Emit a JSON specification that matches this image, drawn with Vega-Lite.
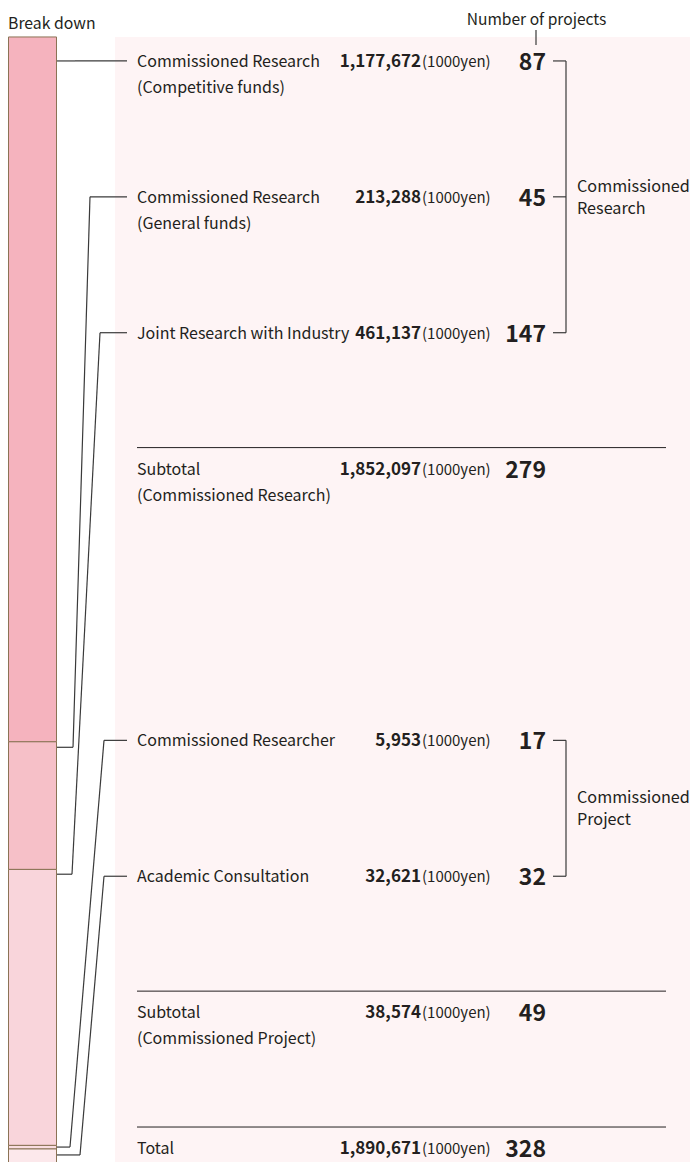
{
  "$schema": "https://vega.github.io/schema/vega-lite/v6.json",
  "width": 690,
  "height": 1163,
  "padding": 0,
  "autosize": {"type": "fit", "contains": "padding"},
  "background": "#ffffff",
  "config": {"view": {"stroke": null}, "text": {"font": "Noto Sans CJK JP", "color": "#231f20"}},
  "datasets": {
    "rows": [
      {"item": "Commissioned Research\n(Competitive funds)", "amount": 1177672, "projects": 87, "group": "Commissioned Research", "kind": "item", "row": 0},
      {"item": "Commissioned Research\n(General funds)", "amount": 213288, "projects": 45, "group": "Commissioned Research", "kind": "item", "row": 1},
      {"item": "Joint Research with Industry", "amount": 461137, "projects": 147, "group": "Commissioned Research", "kind": "item", "row": 2},
      {"item": "Subtotal\n(Commissioned Research)", "amount": 1852097, "projects": 279, "group": "Commissioned Research", "kind": "subtotal", "row": 3},
      {"item": "Commissioned Researcher", "amount": 5953, "projects": 17, "group": "Commissioned Project", "kind": "item", "row": 5},
      {"item": "Academic Consultation", "amount": 32621, "projects": 32, "group": "Commissioned Project", "kind": "item", "row": 6},
      {"item": "Subtotal\n(Commissioned Project)", "amount": 38574, "projects": 49, "group": "Commissioned Project", "kind": "subtotal", "row": 7},
      {"item": "Total", "amount": 1890671, "projects": 328, "group": "All", "kind": "total", "row": 8}
    ],
    "leaders": [
      {"item": "Commissioned Research\n(Competitive funds)", "fromRow": 0, "toRow": 0, "bendX1": 75, "bendX2": 75},
      {"item": "Commissioned Research\n(General funds)", "fromRow": 5.051, "toRow": 1, "bendX1": 73, "bendX2": 90},
      {"item": "Joint Research with Industry", "fromRow": 5.985, "toRow": 2, "bendX1": 72, "bendX2": 100},
      {"item": "Commissioned Researcher", "fromRow": 7.993, "toRow": 5, "bendX1": 70, "bendX2": 104},
      {"item": "Academic Consultation", "fromRow": 8.051, "toRow": 6, "bendX1": 80, "bendX2": 104}
    ],
    "headers": [
      {"title": "Break down", "col": "left"},
      {"title": "Number of projects", "col": "right"}
    ]
  },
  "layer": [
    {
      "data": {"name": "headers"},
      "transform": [{"filter": "datum.col === 'right'"}],
      "mark": {"type": "rect", "color": "#fef4f5", "clip": true},
      "encoding": {
        "x": {"datum": 115, "type": "quantitative", "scale": {"domain": [0, 690], "nice": false, "zero": false}, "axis": null},
        "x2": {"datum": 690},
        "y": {"datum": -0.1765, "type": "quantitative", "scale": {"domain": [-0.4485, 8.1029], "reverse": true, "nice": false, "zero": false}, "axis": null},
        "y2": {"datum": 8.3}
      }
    },
    {
      "data": {"name": "rows"},
      "transform": [
        {"filter": "datum.kind === 'item'"},
        {"stack": "amount", "groupby": [], "sort": [{"field": "row", "order": "ascending"}], "as": ["a0", "a1"]}
      ],
      "mark": {"type": "rect", "stroke": "#8b7355", "strokeWidth": 1, "clip": true},
      "encoding": {
        "x": {"datum": 8.5, "type": "quantitative", "scale": {"domain": [0, 690], "nice": false, "zero": false}, "axis": null},
        "x2": {"datum": 56.5},
        "y": {"field": "a0", "type": "quantitative", "scale": {"domain": [-61770, 1879800], "reverse": true, "nice": false, "zero": false}, "axis": null},
        "y2": {"field": "a1"},
        "color": {
          "field": "item", "type": "nominal", "legend": null,
          "scale": {
            "domain": ["Commissioned Research\n(Competitive funds)", "Commissioned Research\n(General funds)", "Joint Research with Industry", "Commissioned Researcher", "Academic Consultation"],
            "range": ["#f5b3be", "#f6c0c8", "#f9d5db", "#fadde1", "#fce8eb"]
          }
        }
      }
    },
    {
      "data": {"name": "leaders"},
      "mark": {"type": "rule", "color": "#3a3a3a", "strokeWidth": 1.2},
      "encoding": {
        "x": {"field": "bendX1", "type": "quantitative", "scale": {"domain": [0, 690], "nice": false, "zero": false}, "axis": null},
        "x2": {"datum": 57},
        "y": {"field": "fromRow", "type": "quantitative", "scale": {"domain": [-0.4485, 8.1029], "reverse": true, "nice": false, "zero": false}, "axis": null}
      }
    },
    {
      "data": {"name": "leaders"},
      "mark": {"type": "rule", "color": "#3a3a3a", "strokeWidth": 1.2},
      "encoding": {
        "x": {"field": "bendX1", "type": "quantitative", "scale": {"domain": [0, 690], "nice": false, "zero": false}, "axis": null},
        "x2": {"field": "bendX2"},
        "y": {"field": "fromRow", "type": "quantitative", "scale": {"domain": [-0.4485, 8.1029], "reverse": true, "nice": false, "zero": false}, "axis": null},
        "y2": {"field": "toRow"}
      }
    },
    {
      "data": {"name": "leaders"},
      "mark": {"type": "rule", "color": "#3a3a3a", "strokeWidth": 1.2},
      "encoding": {
        "x": {"field": "bendX2", "type": "quantitative", "scale": {"domain": [0, 690], "nice": false, "zero": false}, "axis": null},
        "x2": {"datum": 127},
        "y": {"field": "toRow", "type": "quantitative", "scale": {"domain": [-0.4485, 8.1029], "reverse": true, "nice": false, "zero": false}, "axis": null}
      }
    },
    {
      "data": {"name": "rows"},
      "transform": [{"filter": "datum.kind === 'item'"}],
      "mark": {"type": "rule", "color": "#3a3a3a", "strokeWidth": 1.2},
      "encoding": {
        "x": {"datum": 553, "type": "quantitative", "scale": {"domain": [0, 690], "nice": false, "zero": false}, "axis": null},
        "x2": {"datum": 566},
        "y": {"field": "row", "type": "quantitative", "scale": {"domain": [-0.4485, 8.1029], "reverse": true, "nice": false, "zero": false}, "axis": null}
      }
    },
    {
      "data": {"name": "rows"},
      "transform": [
        {"filter": "datum.kind === 'item'"},
        {"aggregate": [{"op": "min", "field": "row", "as": "r0"}, {"op": "max", "field": "row", "as": "r1"}], "groupby": ["group"]}
      ],
      "mark": {"type": "rule", "color": "#3a3a3a", "strokeWidth": 1.2},
      "encoding": {
        "x": {"datum": 566, "type": "quantitative", "scale": {"domain": [0, 690], "nice": false, "zero": false}, "axis": null},
        "y": {"field": "r0", "type": "quantitative", "scale": {"domain": [-0.4485, 8.1029], "reverse": true, "nice": false, "zero": false}, "axis": null},
        "y2": {"field": "r1"}
      }
    },
    {
      "data": {"name": "rows"},
      "transform": [{"filter": "datum.kind !== 'item'"}],
      "mark": {"type": "rule", "color": "#231f20", "strokeWidth": 1, "yOffset": -21},
      "encoding": {
        "x": {"datum": 137, "type": "quantitative", "scale": {"domain": [0, 690], "nice": false, "zero": false}, "axis": null},
        "x2": {"datum": 666},
        "y": {"field": "row", "type": "quantitative", "scale": {"domain": [-0.4485, 8.1029], "reverse": true, "nice": false, "zero": false}, "axis": null}
      }
    },
    {
      "data": {"name": "rows"},
      "mark": {"type": "text", "align": "left", "baseline": "alphabetic", "dy": 6, "fontSize": 16, "lineBreak": "\n", "lineHeight": 26},
      "encoding": {
        "x": {"datum": 137, "type": "quantitative", "scale": {"domain": [0, 690], "nice": false, "zero": false}, "axis": null},
        "y": {"field": "row", "type": "quantitative", "scale": {"domain": [-0.4485, 8.1029], "reverse": true, "nice": false, "zero": false}, "axis": null},
        "text": {"field": "item", "type": "nominal"}
      }
    },
    {
      "data": {"name": "rows"},
      "mark": {"type": "text", "align": "right", "baseline": "alphabetic", "dy": 6, "fontSize": 17, "fontWeight": "bold"},
      "encoding": {
        "x": {"datum": 421, "type": "quantitative", "scale": {"domain": [0, 690], "nice": false, "zero": false}, "axis": null},
        "y": {"field": "row", "type": "quantitative", "scale": {"domain": [-0.4485, 8.1029], "reverse": true, "nice": false, "zero": false}, "axis": null},
        "text": {"field": "amount", "type": "quantitative", "format": ","}
      }
    },
    {
      "data": {"name": "rows"},
      "mark": {"type": "text", "align": "left", "baseline": "alphabetic", "dy": 6, "fontSize": 15},
      "encoding": {
        "x": {"datum": 422, "type": "quantitative", "scale": {"domain": [0, 690], "nice": false, "zero": false}, "axis": null},
        "y": {"field": "row", "type": "quantitative", "scale": {"domain": [-0.4485, 8.1029], "reverse": true, "nice": false, "zero": false}, "axis": null},
        "text": {"value": "(1000yen)"}
      }
    },
    {
      "data": {"name": "rows"},
      "mark": {"type": "text", "align": "right", "baseline": "alphabetic", "dy": 9, "fontSize": 23, "fontWeight": 600},
      "encoding": {
        "x": {"datum": 546, "type": "quantitative", "scale": {"domain": [0, 690], "nice": false, "zero": false}, "axis": null},
        "y": {"field": "row", "type": "quantitative", "scale": {"domain": [-0.4485, 8.1029], "reverse": true, "nice": false, "zero": false}, "axis": null},
        "text": {"field": "projects", "type": "quantitative"}
      }
    },
    {
      "data": {"name": "rows"},
      "transform": [
        {"filter": "datum.kind === 'item'"},
        {"aggregate": [{"op": "mean", "field": "row", "as": "mid"}], "groupby": ["group"]}
      ],
      "mark": {"type": "text", "align": "left", "baseline": "alphabetic", "dy": -5, "fontSize": 16.2, "lineBreak": " ", "lineHeight": 22},
      "encoding": {
        "x": {"datum": 577, "type": "quantitative", "scale": {"domain": [0, 690], "nice": false, "zero": false}, "axis": null},
        "y": {"field": "mid", "type": "quantitative", "scale": {"domain": [-0.4485, 8.1029], "reverse": true, "nice": false, "zero": false}, "axis": null},
        "text": {"field": "group", "type": "nominal"}
      }
    },
    {
      "data": {"name": "headers"},
      "transform": [{"filter": "datum.col === 'left'"}],
      "mark": {"type": "text", "align": "left", "baseline": "alphabetic", "fontSize": 15.8},
      "encoding": {
        "x": {"datum": 8, "type": "quantitative", "scale": {"domain": [0, 690], "nice": false, "zero": false}, "axis": null},
        "y": {"datum": -0.235, "type": "quantitative", "scale": {"domain": [-0.4485, 8.1029], "reverse": true, "nice": false, "zero": false}, "axis": null},
        "text": {"field": "title", "type": "nominal"}
      }
    },
    {
      "data": {"name": "headers"},
      "transform": [{"filter": "datum.col === 'right'"}],
      "mark": {"type": "text", "align": "center", "baseline": "alphabetic", "fontSize": 15.6},
      "encoding": {
        "x": {"datum": 536.5, "type": "quantitative", "scale": {"domain": [0, 690], "nice": false, "zero": false}, "axis": null},
        "y": {"datum": -0.268, "type": "quantitative", "scale": {"domain": [-0.4485, 8.1029], "reverse": true, "nice": false, "zero": false}, "axis": null},
        "text": {"field": "title", "type": "nominal"}
      }
    },
    {
      "data": {"name": "headers"},
      "transform": [{"filter": "datum.col === 'right'"}],
      "mark": {"type": "rule", "color": "#3a3a3a", "strokeWidth": 1.2},
      "encoding": {
        "x": {"datum": 536, "type": "quantitative", "scale": {"domain": [0, 690], "nice": false, "zero": false}, "axis": null},
        "y": {"datum": -0.228, "type": "quantitative", "scale": {"domain": [-0.4485, 8.1029], "reverse": true, "nice": false, "zero": false}, "axis": null},
        "y2": {"datum": -0.118}
      }
    }
  ],
  "resolve": {"scale": {"y": "independent"}}
}
